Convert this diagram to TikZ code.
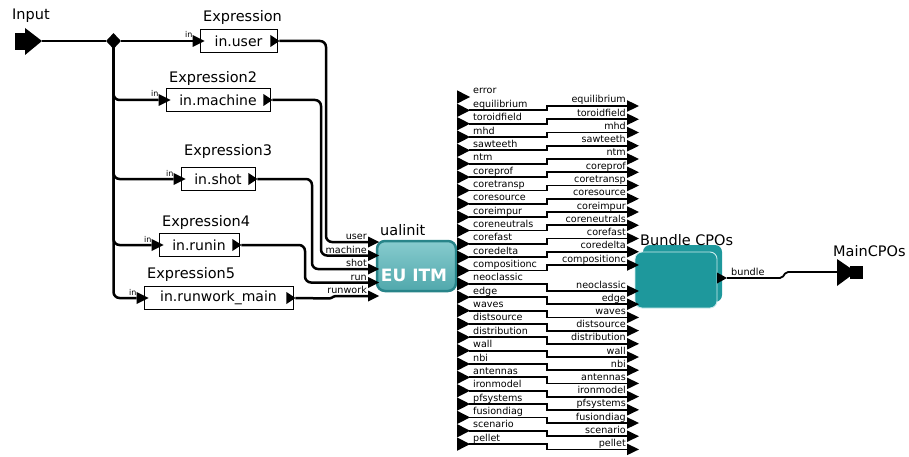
\documentclass[tikz,border=0pt]{standalone}
\usepackage{fontspec}
\setmainfont{DejaVu Sans}
\usetikzlibrary{shapes.geometric,calc}
\definecolor{ualdark}{RGB}{40,132,137}
\definecolor{ualtop}{RGB}{135,203,206}
\definecolor{ualbot}{RGB}{80,168,172}
\definecolor{bundlec}{RGB}{30,152,156}
\definecolor{bundleedge}{RGB}{205,236,237}
\newcommand\rtri[3]{\fill (#1) ++(0,-#3) -- ++(#2,#3) -- ++(-#2,#3) -- cycle;}
\begin{document}
\begin{tikzpicture}[x=1pt,y=-1pt,
  wire/.style={line width=2.5pt, rounded corners=6pt},
  mwire/.style={line width=1.8pt},
  ebox/.style={draw, line width=0.8pt, fill=white, minimum height=23pt, inner sep=0pt, font=\fontsize{14}{16}\selectfont},
  elabel/.style={anchor=base west, inner sep=0pt, font=\fontsize{14.5}{16}\selectfont},
  plabel/.style={inner sep=0pt, font=\fontsize{9.6}{10}\selectfont},
  inlabel/.style={anchor=base east, inner sep=0pt, font=\fontsize{8}{8}\selectfont},
  bundlebox/.style={fill=bundlec, rounded corners=7pt, inner sep=0pt},
]
\useasboundingbox (0,0) rectangle (909,457);

% Input port
\node[elabel] (inputlbl) at (12,20) {Input};
\fill (15,33) rectangle (26,50);
\fill (25,28) -- (42,41) -- (25,55) -- cycle;
\coordinate (inp) at (42,41);
\node[diamond, fill, inner sep=0pt, minimum width=15pt, minimum height=16pt] (dia) at (113.5,41) {};

% Expression boxes
\node[ebox, minimum width=77pt] (e1) at (238.5,41) {in.user};
\node[ebox, minimum width=104pt] (e2) at (218,100) {in.machine};
\node[ebox, minimum width=74pt] (e3) at (218,179) {in.shot};
\node[ebox, minimum width=80pt] (e4) at (199,245) {in.runin};
\node[ebox, minimum width=149pt] (e5) at (218.5,298) {in.runwork\_main};
\node[elabel] (e1l) at (203,22) {Expression};
\node[elabel] (e2l) at (169,83) {Expression2};
\node[elabel] (e3l) at (184,156) {Expression3};
\node[elabel] (e4l) at (162,226) {Expression4};
\node[elabel] (e5l) at (147,278) {Expression5};

\foreach \e in {e1,e2,e3,e4,e5} {
  \coordinate (\e i) at ($(\e.west)+(-7,0)$);
  \coordinate (\e o) at ($(\e.east)+(2,0)$);
}

% wires from input
\draw[wire] (inp) -- (dia);
\draw[wire] (dia) -- (e1i);
\draw[wire] (dia.center) |- (e2i);
\draw[wire] (dia.center) |- (e3i);
\draw[wire] (dia.center) |- (e4i);
\draw[wire] (dia.center) |- (e5i);

\foreach \e in {e1,e2,e3,e4,e5} {
  \rtri{\e i}{12}{6}
  \rtri{$(\e o)+(-9,0)$}{9}{6}
  \node[inlabel] (\e inl) at ($(\e i)+(0,-3)$) {in};
}

% ualinit actor
\node[draw=ualdark, line width=2.5pt, rounded corners=8pt, minimum width=79pt, minimum height=50pt,
      top color=ualtop, bottom color=ualbot, inner sep=0pt] (ual) at (416.5,266) {};
\node[text=white, inner sep=0pt, font=\fontsize{17}{18}\selectfont\bfseries] (ualtxt) at (414,275) {EU ITM};
\node[elabel] (uallbl) at (380,235) {ualinit};

\foreach \n/\yy [count=\k] in {user/242,machine/255.5,shot/269,run/282.5,runwork/296} {
  \coordinate (U\k) at (368,\yy);
  \node[plabel, anchor=base east] (ul\k) at (367,\yy-2.5) {\n};
}

% wires from expressions to ualinit
\draw[wire] (e1o) -| (326,242) -- (U1);
\draw[wire] (e2o) -| (321,255.5) -- (U2);
\draw[wire] (e3o) -| (312,269) -- (U3);
\draw[wire] (e4o) -| (305,282.5) -- (U4);
\draw[wire, rounded corners=1.5pt] (e5o) -- (331,298.5) -- (334,296) -- (U5);

\foreach \k in {1,...,5} { \rtri{U\k}{11}{5.5} }

% ualinit output ports
\foreach \n [count=\i from 0] in {error,equilibrium,toroidfield,mhd,sawteeth,ntm,coreprof,coretransp,coresource,coreimpur,coreneutrals,corefast,coredelta,compositionc,neoclassic,edge,waves,distsource,distribution,wall,nbi,antennas,ironmodel,pfsystems,fusiondiag,scenario,pellet} {
  \pgfmathsetmacro\yy{97+13.35*\i}
  \coordinate (L\i) at (469,\yy);
  \fill (457,\yy) ++(0,-6.7) -- ++(13,6.7) -- ++(-13,6.7) -- cycle;
  \node[plabel, anchor=base west] (LL\i) at (473,\yy-3) {\n};
}

% Bundle CPOs
\node[bundlebox, minimum width=79pt, minimum height=57pt] (bb) at (682.5,273.5) {};
\node[bundlebox, draw=bundleedge, line width=0.9pt, minimum width=82pt, minimum height=56pt] (bf) at (676,280) {};
\node[elabel] (bundlelbl) at (640,245) {Bundle CPOs};

\foreach \n [count=\j from 0] in {equilibrium,toroidfield,mhd,sawteeth,ntm,coreprof,coretransp,coresource,coreimpur,coreneutrals,corefast,coredelta,compositionc,neoclassic,edge,waves,distsource,distribution,wall,nbi,antennas,ironmodel,pfsystems,fusiondiag,scenario,pellet} {
  \pgfmathsetmacro\yy{\j<13 ? 106+13.25*\j : 291+13.2*(\j-13)}
  \coordinate (R\j) at (627,\yy);
  \node[plabel, anchor=base east] (RL\j) at (626,\yy-3) {\n};
}

\foreach \i in {1,...,26} {
  \pgfmathtruncatemacro\j{\i-1}
  \draw[mwire] (L\i) -- ++(78,0) |- (R\j);
}
\foreach \j in {0,...,25} { \rtri{R\j}{12}{5.8} }

% bundle output
\coordinate (bo) at (727,278);
\rtri{717,278}{10}{5.5}
\node[plabel, anchor=base west, font=\fontsize{9.7}{10}\selectfont] (bundletxt) at (731,275) {bundle};

% MainCPOs output port
\node[elabel] (mainlbl) at (833,256) {MainCPOs};
\coordinate (mc) at (837,272);
\fill (837,259) -- (856,272) -- (837,286) -- cycle;
\fill (850,266) rectangle (863,279);
\draw[mwire, rounded corners=2pt] (bo) -- (782,278) -- (786,272) -- (mc);
\end{tikzpicture}
\end{document}
